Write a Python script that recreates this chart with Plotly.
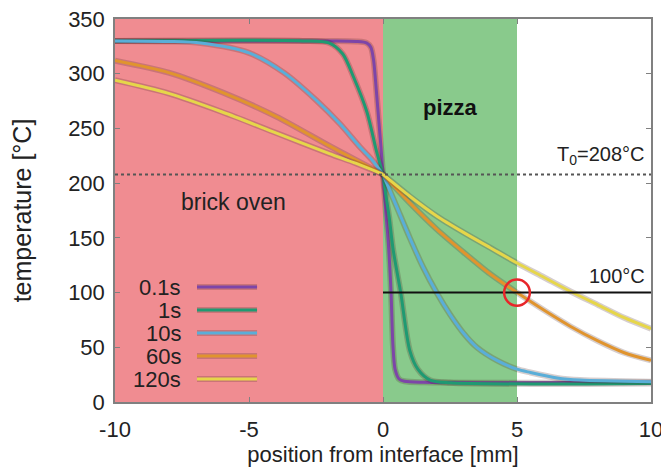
import plotly.graph_objects as go

# ---- data ----
labels = ["0.1s", "1s", "10s", "60s", "120s"]
colors = ["#7d45a8", "#1f9a72", "#5aaed8", "#e0942e", "#e6d64a"]

x_01 = [-10, -2, -1, -0.6, -0.45, -0.35, -0.25, -0.15, -0.05, 0, 0.1, 0.2, 0.3, 0.37, 0.45, 0.6, 0.8, 1.5, 10]
y_01 = [330, 330, 329.5, 328, 324, 312, 285, 255, 225, 208, 175, 145, 100, 52, 30, 21, 19, 18, 18]

x_1 = [-10, -3, -2, -1.5, -1.1, -0.6, -0.25, 0, 0.1, 0.23, 0.38, 0.66, 1.0, 1.3, 1.76, 2.5, 10]
y_1 = [330, 330, 328, 318, 297, 265, 230, 208, 190, 169, 139, 100, 47, 30, 20, 17.5, 17]

x_10 = [-10, -8, -6.8, -5, -3.7, -2.5, -1.6, -0.86, -0.4, 0,
        0.5, 1.0, 1.5, 2.0, 2.5, 3.0, 3.5, 4.25, 5, 5.5, 6.5, 7.35, 10]
y_10 = [330, 329.5, 328, 319, 301, 276, 254, 233, 221, 208,
        179, 150, 123, 100, 80, 63, 50, 38, 30, 27, 22, 20, 18.5]

x_60 = [-10, -8, -6, -4, -2, -1, 0, 1, 2, 3, 4, 5, 6, 7, 8, 9, 10]
y_60 = [312, 301, 283, 261, 234, 221, 208, 182, 158, 137, 117, 100, 84, 69, 56, 45, 38]

x_120 = [-10, -8, -6, -4, -2, -1, 0, 1, 2, 3, 4, 5, 6, 7, 8, 9, 10]
y_120 = [294, 282, 265, 246, 227, 218, 208, 188, 170, 155, 141, 127, 114, 101, 89, 77, 67]

series_x = [x_01, x_1, x_10, x_60, x_120]
series_y = [y_01, y_1, y_10, y_60, y_120]

x_ticks = [-10, -5, 0, 5, 10]
x_ticktext = ["-10", "-5", "0", "5", "10"]
y_ticks = [0, 50, 100, 150, 200, 250, 300, 350]

T0 = 208
T_target = 100
circle_x, circle_y = 5, 100
legend_y = [105, 84, 63, 42, 21]

SHADOW = "rgba(70,30,30,0.22)"
FONT_C = "#222222"

fig = go.Figure()

# regions
fig.add_shape(type="rect", x0=-10, x1=0, y0=0, y1=350, fillcolor="#f08c91",
              line_width=0, layer="below")
fig.add_shape(type="rect", x0=0, x1=5, y0=0, y1=350, fillcolor="#89ca8c",
              line_width=0, layer="below")

# T0 dotted line and 100°C line
fig.add_shape(type="line", x0=-10, x1=10, y0=T0, y1=T0,
              line=dict(color="#555555", width=2, dash="dot"))
fig.add_shape(type="line", x0=0, x1=10, y0=T_target, y1=T_target,
              line=dict(color="#111111", width=2))

# curves (brick side and pizza side drawn separately so the kink at the interface stays sharp)
for xs, ys, c, name in zip(series_x, series_y, colors, labels):
    i0 = xs.index(0)
    for seg in (slice(0, i0 + 1), slice(i0, len(xs))):
        sx, sy = xs[seg], ys[seg]
        fig.add_trace(go.Scatter(x=sx, y=sy, mode="lines", showlegend=False, hoverinfo="skip",
                                 line=dict(color=SHADOW, width=6, shape="spline", smoothing=0.8)))
        fig.add_trace(go.Scatter(x=sx, y=sy, mode="lines", name=name, showlegend=False,
                                 line=dict(color=c, width=3, shape="spline", smoothing=0.8)))

# red circle
fig.add_shape(type="circle", x0=circle_x - 0.48, x1=circle_x + 0.48,
              y0=circle_y - 12, y1=circle_y + 12,
              line=dict(color="#e8262a", width=2.5))

# manual legend (text left of the line sample)
for ly, c, name in zip(legend_y, colors, labels):
    fig.add_shape(type="line", x0=-6.94, x1=-4.7, y0=ly, y1=ly,
                  line=dict(color=SHADOW, width=6))
    fig.add_shape(type="line", x0=-6.94, x1=-4.7, y0=ly, y1=ly,
                  line=dict(color=c, width=3))
    fig.add_annotation(x=-7.45, y=ly, text=name, showarrow=False, xanchor="right",
                       yanchor="middle", font=dict(size=22, color=FONT_C))

# text labels
fig.add_annotation(x=-5.56, y=183, text="brick oven", showarrow=False,
                   font=dict(size=23, color=FONT_C))
fig.add_annotation(x=2.5, y=269, text="<b>pizza</b>", showarrow=False,
                   font=dict(size=22, color="#111111"))
fig.add_annotation(x=9.85, y=212, text="T<sub>0</sub>=208°C", showarrow=False,
                   xanchor="right", yanchor="bottom", font=dict(size=20, color=FONT_C))
fig.add_annotation(x=9.85, y=103, text="100°C", showarrow=False,
                   xanchor="right", yanchor="bottom", font=dict(size=20, color=FONT_C))

axis_common = dict(showgrid=False, zeroline=False, showline=True, mirror="ticks",
                   linecolor="#808080", linewidth=1.5, ticks="inside", ticklen=5,
                   tickcolor="#808080", tickfont=dict(size=22, color=FONT_C),
                   ticklabeloverflow="allow")

fig.update_xaxes(range=[-10, 10], tickvals=x_ticks, ticktext=x_ticktext,
                 ticklabelstandoff=7,
                 title=dict(text="position from interface [mm]", font=dict(size=22, color=FONT_C),
                            standoff=0),
                 **axis_common)
fig.update_yaxes(range=[0, 350], tickvals=y_ticks,
                 ticklabelstandoff=4,
                 title=dict(text="temperature [°C]", font=dict(size=25, color=FONT_C),
                            standoff=34),
                 **axis_common)

# the page adds an 8px body margin, so the figure is 8px smaller than the window
fig.update_layout(width=661, height=467, margin=dict(l=107, r=18, t=11, b=73, autoexpand=False),
                  plot_bgcolor="white", paper_bgcolor="white",
                  font=dict(family="Liberation Sans, Arial, sans-serif", color=FONT_C))

fig.write_html("out.html")
